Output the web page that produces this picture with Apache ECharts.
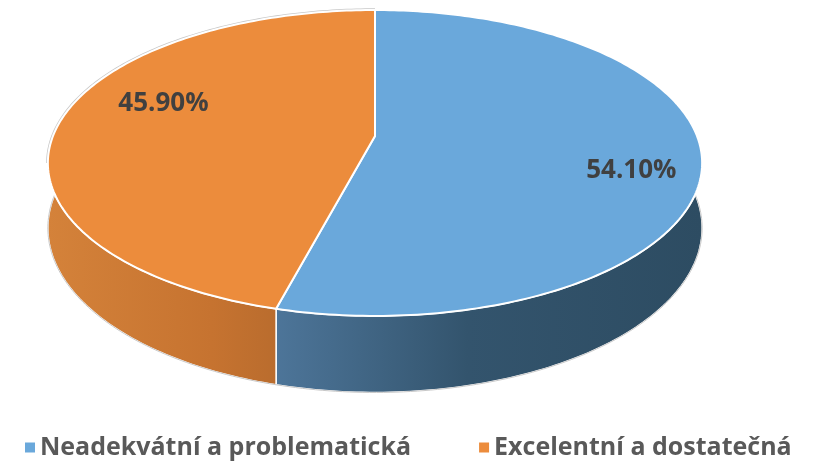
<!DOCTYPE html>
<html>
<head>
<meta charset="utf-8">
<script src="https://cdn.jsdelivr.net/npm/echarts@6/dist/echarts.min.js"></script>
<style>
  html, body { margin: 0; padding: 0; background: #fff; }
  #pie-3d { width: 820px; height: 469px; }
</style>
</head>
<body>
<div id="pie-3d"></div>
<script>
const categories = ['Neadekvátní a problematická', 'Excelentní a dostatečná']
const values = [54.1, 45.9]
const topColors = ['#6AA8DB', '#EC8C3C']
const sideStops = [
  ['#4D7599', '#33546D', '#2D4C62'],
  ['#D4823A', '#C67330', '#A7622A']
]

// fake perspective for the tilted disc
const CX = 375, CY = 136, RX = 322, RY = 148.2, PERSP = 0.1765, DEPTH = 63

function proj(r, ang, h) {
  let u = r * Math.sin(ang)
  let v = r * Math.cos(ang)
  let w = 1 + PERSP * v
  return [CX + RX * u / w, CY + (h - RY * v) / w]
}

function arcPoints(a1, a2, h) {
  let pts = []
  let n = Math.max(2, Math.ceil((a2 - a1) / (Math.PI / 180)))
  for (let i = 0; i <= n; i++) {
    pts.push(proj(1, a1 + (a2 - a1) * i / n, h))
  }
  return pts
}

const total = values.reduce((s, v) => s + v, 0)
// the back part of the rim (silhouette) runs from -100deg to 100deg
const RIM = Math.acos(-PERSP)

function renderSlice(idx) {
  return function (params, api) {
    let before = 0
    for (let i = 0; i < idx; i++) before += values[i]
    let a1 = before / total * Math.PI * 2
    let a2 = (before + api.value(0)) / total * Math.PI * 2

    let topArc = arcPoints(a1, a2, 0)
    let botArc = arcPoints(a1, a2, DEPTH)
    let wall = topArc.concat(botArc.slice().reverse())
    let xs = wall.map(p => p[0])
    let x0 = Math.min(...xs), x1 = Math.max(...xs)
    let stops = sideStops[idx]

    // back rim outline, clipped to this slice
    let b1 = Math.max(a1, -RIM), b2 = Math.min(a2, RIM)
    if (a2 > Math.PI) { b1 = Math.max(a1, 2 * Math.PI - RIM); b2 = a2 }
    let rim = b2 > b1 ? arcPoints(b1, b2, 0) : []

    let mid = (a1 + a2) / 2 + 10 * Math.PI / 180
    let lp = proj(0.76, mid, 0)

    return {
      type: 'group',
      children: [{
        type: 'polygon',
        z2: 1,
        shape: { points: wall },
        style: {
          fill: {
            type: 'linear', x: x0, y: 0, x2: x1, y2: 0, global: true,
            colorStops: idx === 0
              ? [{ offset: 0, color: stops[0] }, { offset: 0.45, color: stops[1] }, { offset: 1, color: stops[2] }]
              : [{ offset: 0, color: stops[0] }, { offset: 0.5, color: stops[1] }, { offset: 1, color: stops[2] }]
          },
          stroke: '#fff',
          lineWidth: 1.5
        }
      }, {
        type: 'polyline',
        z2: 2,
        shape: { points: botArc },
        style: { fill: null, stroke: '#c8c8c8', lineWidth: 1 }
      }, {
        type: 'polyline',
        z2: 4,
        shape: { points: rim },
        style: { fill: null, stroke: '#c8c8c8', lineWidth: 3.5 }
      }, {
        type: 'polygon',
        z2: 5,
        shape: { points: [proj(0, 0, 0)].concat(topArc) },
        style: { fill: topColors[idx], stroke: '#fff', lineWidth: 2, lineJoin: 'round' }
      }, {
        type: 'text',
        z2: 10,
        x: lp[0] + 13,
        y: lp[1],
        style: {
          text: api.value(0).toFixed(2) + '%',
          font: 'bold 26px "Open Sans"',
          fill: '#404040',
          align: 'center',
          verticalAlign: 'middle'
        }
      }]
    }
  }
}

let chart = echarts.init(document.getElementById('pie-3d'))
let option = {
  animation: false,
  legend: {
    data: categories,
    selectedMode: false,
    left: 20,
    top: 430,
    icon: 'rect',
    itemWidth: 10,
    itemHeight: 10,
    itemGap: 68,
    textStyle: {
      fontFamily: 'Open Sans',
      fontWeight: 'bold',
      fontSize: 25,
      color: '#595959',
      padding: [28, 0, 0, 0]
    }
  },
  series: categories.map((name, i) => ({
    type: 'custom',
    name: name,
    coordinateSystem: 'none',
    itemStyle: { color: topColors[i] },
    renderItem: renderSlice(i),
    data: [values[i]]
  }))
}
chart.setOption(option)
</script>
</body>
</html>
